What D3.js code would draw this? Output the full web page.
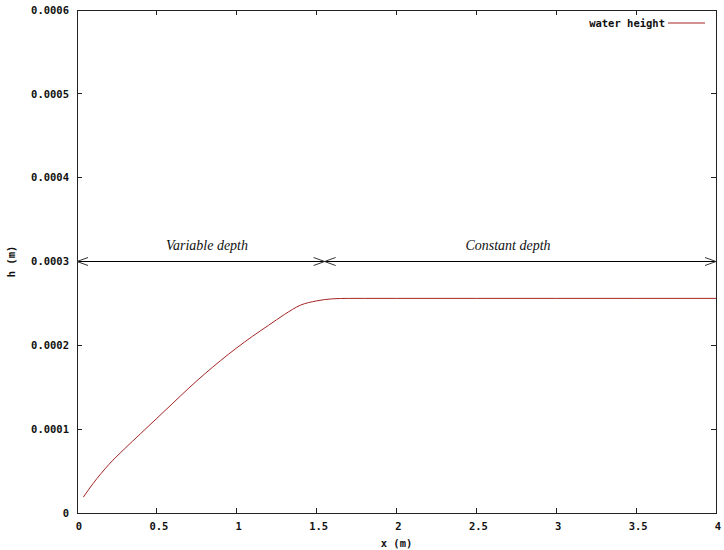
<!DOCTYPE html>
<html>
<head>
<meta charset="utf-8">
<script src="https://cdn.jsdelivr.net/npm/d3@7"></script>
<style>
  html, body { margin: 0; padding: 0; background: #fff; }
  svg { display: block; }
  .tick-label { font-family: "DejaVu Sans Mono", monospace; font-weight: bold; font-size: 10.5px; fill: #111; }
  .note { font-family: "Liberation Serif", "Times New Roman", serif; font-style: italic; font-size: 14px; fill: #111; }
</style>
</head>
<body>
<svg id="chart" width="724" height="550"></svg>
<script>
// ---- data ----
const xValues = [0.04, 0.1, 0.15, 0.2, 0.3, 0.4, 0.5, 0.6, 0.7, 0.8, 0.9, 1.0, 1.1, 1.2, 1.3, 1.4, 1.5, 1.6, 1.7, 1.8, 2.0, 2.5, 3.0, 3.5, 4.0];
const hValues = [0.000019, 0.000035, 0.000047, 0.000058, 0.000077, 0.000095, 0.000113, 0.000131, 0.000149, 0.000166, 0.000182, 0.000197, 0.000211, 0.000224, 0.000237, 0.000248, 0.000253, 0.0002555, 0.000256, 0.000256, 0.000256, 0.000256, 0.000256, 0.000256, 0.000256];
const xTicks = [0, 0.5, 1, 1.5, 2, 2.5, 3, 3.5, 4];
const xTickLabels = ["0", "0.5", "1", "1.5", "2", "2.5", "3", "3.5", "4"];
const yTicks = [0, 0.0001, 0.0002, 0.0003, 0.0004, 0.0005, 0.0006];
const yTickLabels = ["0", "0.0001", "0.0002", "0.0003", "0.0004", "0.0005", "0.0006"];
const seriesName = "water height";
const regionLevel = 0.0003;
const regionNames = ["Variable depth", "Constant depth"];
const regionBounds = [[0, 1.55], [1.55, 4]];
const xLabel = "x (m)";
const yLabel = "h (m)";

// ---- layout ----
const svg = d3.select("#chart");
const pL = 77, pR = 716, pT = 10, pB = 513;
const x = d3.scaleLinear().domain([0, 4]).range([pL, pR]);
const y = d3.scaleLinear().domain([0, 0.0006]).range([pB, pT]);
const axisColor = "#222";
const tickLen = 5;

svg.append("rect").attr("width", 724).attr("height", 550).attr("fill", "#fff");

// frame
svg.append("rect")
  .attr("x", pL).attr("y", pT)
  .attr("width", pR - pL).attr("height", pB - pT)
  .attr("fill", "none").attr("stroke", axisColor).attr("stroke-width", 1)
  .attr("shape-rendering", "crispEdges");

// ticks (inward, mirrored)
const tg = svg.append("g").attr("shape-rendering", "crispEdges");
xTicks.forEach((v, i) => {
  if (i > 0 && i < xTicks.length - 1) {
    tg.append("line").attr("x1", x(v)).attr("x2", x(v)).attr("y1", pB).attr("y2", pB - tickLen).attr("stroke", axisColor);
    tg.append("line").attr("x1", x(v)).attr("x2", x(v)).attr("y1", pT).attr("y2", pT + tickLen).attr("stroke", axisColor);
  }
  svg.append("text").attr("class", "tick-label")
    .attr("x", x(v) + 2).attr("y", 530)
    .attr("text-anchor", "middle")
    .text(xTickLabels[i]);
});

yTicks.forEach((v, i) => {
  if (i > 0 && i < yTicks.length - 1) {
    tg.append("line").attr("x1", pL).attr("x2", pL + tickLen).attr("y1", y(v)).attr("y2", y(v)).attr("stroke", axisColor);
    tg.append("line").attr("x1", pR).attr("x2", pR - tickLen).attr("y1", y(v)).attr("y2", y(v)).attr("stroke", axisColor);
  }
  svg.append("text").attr("class", "tick-label")
    .attr("x", 69).attr("y", y(v))
    .attr("dy", "0.35em")
    .attr("text-anchor", "end")
    .text(yTickLabels[i]);
});

// axis labels
svg.append("text").attr("class", "tick-label")
  .attr("x", (pL + pR) / 2).attr("y", 547)
  .attr("text-anchor", "middle").text(xLabel);
svg.append("text").attr("class", "tick-label")
  .attr("transform", `translate(15, ${(pT + pB) / 2}) rotate(-90)`)
  .attr("text-anchor", "middle").text(yLabel);

// region arrows
const ay = y(regionLevel);
const headLen = 11, headHalf = 4;
function head(tipX, dir) {
  svg.append("path")
    .attr("d", `M${tipX - dir * headLen},${ay - headHalf}L${tipX},${ay}L${tipX - dir * headLen},${ay + headHalf}`)
    .attr("fill", "none").attr("stroke", "#333").attr("stroke-width", 1);
}
regionBounds.forEach((b) => {
  svg.append("line")
    .attr("x1", x(b[0])).attr("x2", x(b[1]))
    .attr("y1", ay).attr("y2", ay)
    .attr("stroke", "#000").attr("stroke-width", 1.2);
  head(x(b[0]), -1);
  head(x(b[1]), 1);
});
svg.append("text").attr("class", "note")
  .attr("x", 207).attr("y", 249.5).attr("text-anchor", "middle")
  .text(regionNames[0]);
svg.append("text").attr("class", "note")
  .attr("x", 508).attr("y", 249.5).attr("text-anchor", "middle")
  .text(regionNames[1]);

// curve
const data = xValues.map((v, i) => [v, hValues[i]]);
const curveColor = "#a52525";
svg.append("path")
  .datum(data)
  .attr("d", d3.line().x(d => x(d[0])).y(d => y(d[1])).curve(d3.curveMonotoneX))
  .attr("fill", "none").attr("stroke", curveColor).attr("stroke-width", 1);

// legend
svg.append("text").attr("class", "tick-label")
  .attr("x", 665).attr("y", 23).attr("dy", "0.35em")
  .attr("text-anchor", "end").text(seriesName);
svg.append("line")
  .attr("x1", 668).attr("x2", 705).attr("y1", 23).attr("y2", 23)
  .attr("stroke", curveColor).attr("stroke-width", 1);
</script>
</body>
</html>
